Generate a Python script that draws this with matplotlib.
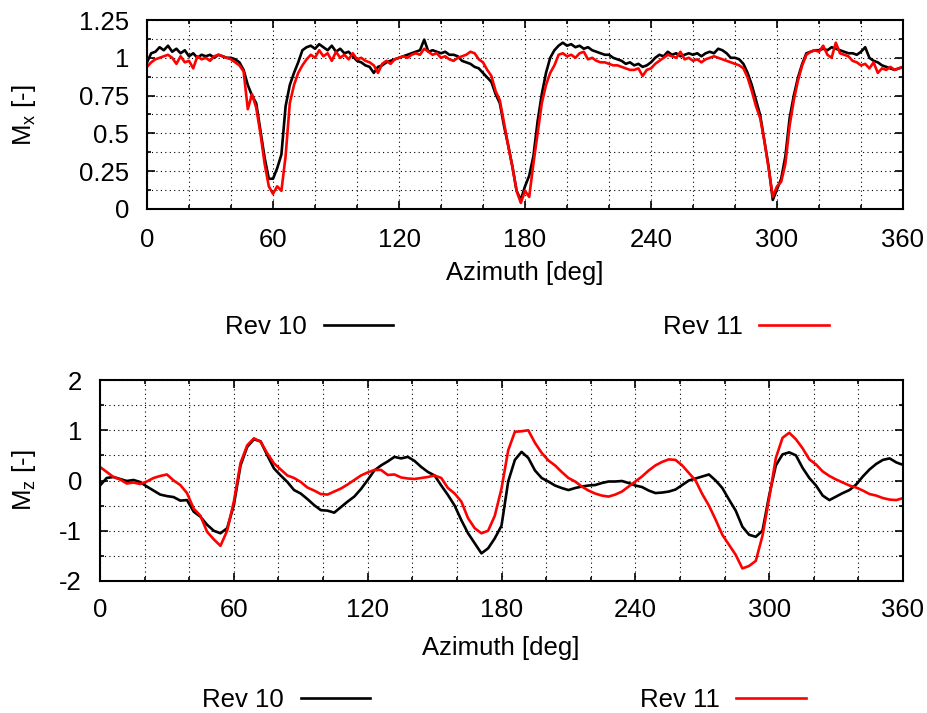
import numpy as np
import matplotlib
matplotlib.use('Agg')
import matplotlib.pyplot as plt
from matplotlib.ticker import MultipleLocator

plt.rcParams['font.family'] = ['Liberation Sans', 'DejaVu Sans']
plt.rcParams['font.size'] = 18.5
plt.rcParams['mathtext.fontset'] = 'custom'
plt.rcParams['mathtext.rm'] = 'Liberation Sans'

# azimuth grids (deg)
az_mx = np.arange(0, 361, 2)
az_mz = np.arange(0, 361, 3)

# M_x, step 2 deg
mx_rev10 = [
    0.97, 1.03, 1.04, 1.07, 1.05, 1.08, 1.04, 1.06, 1.03, 1.05,
    1.01, 1.03, 1.00, 1.02, 1.01, 1.02, 1.00, 1.02, 1.01, 1.00,
    1.00, 0.99, 0.97, 0.92, 0.82, 0.75, 0.70, 0.52, 0.34, 0.20,
    0.20, 0.27, 0.36, 0.68, 0.82, 0.90, 0.97, 1.05, 1.07, 1.08,
    1.06, 1.09, 1.07, 1.05, 1.08, 1.04, 1.06, 1.03, 1.04, 1.01,
    0.98, 0.97, 0.95, 0.94, 0.90, 0.94, 0.95, 0.97, 0.98, 0.99,
    1.00, 1.01, 1.02, 1.03, 1.04, 1.05, 1.12, 1.04, 1.05, 1.04,
    1.03, 1.04, 1.02, 1.02, 1.01, 0.98, 0.97, 0.96, 0.94, 0.93,
    0.90, 0.87, 0.84, 0.76, 0.70, 0.55, 0.42, 0.28, 0.12, 0.06,
    0.15, 0.22, 0.35, 0.58, 0.76, 0.90, 1.00, 1.05, 1.08, 1.10,
    1.08, 1.09, 1.07, 1.08, 1.06, 1.07, 1.05, 1.04, 1.03, 1.02,
    1.02, 1.00, 0.99, 0.98, 0.96, 0.97, 0.95, 0.96, 0.94, 0.95,
    0.97, 1.00, 1.02, 1.01, 1.04, 1.02, 1.03, 1.01, 1.02, 1.03,
    1.02, 1.03, 1.01, 1.03, 1.04, 1.03, 1.06, 1.05, 1.03, 1.00,
    1.00, 0.99, 0.96, 0.90, 0.82, 0.72, 0.62, 0.45, 0.28, 0.06,
    0.13, 0.20, 0.35, 0.60, 0.75, 0.87, 0.96, 1.03, 1.04, 1.05,
    1.05, 1.06, 1.05, 1.07, 1.06, 1.05, 1.04, 1.03, 1.03, 1.02,
    1.04, 1.07, 1.00, 0.98, 0.97, 0.95, 0.94, 0.93, 0.92, 0.93,
    0.94,
]
mx_rev11 = [
    0.94, 0.97, 0.99, 1.00, 1.01, 1.02, 1.00, 0.96, 1.01, 0.97,
    0.98, 0.93, 1.01, 0.99, 1.00, 0.98, 1.01, 1.02, 1.01, 1.00,
    0.99, 0.97, 0.95, 0.91, 0.66, 0.76, 0.67, 0.50, 0.30, 0.15,
    0.10, 0.15, 0.12, 0.35, 0.70, 0.82, 0.90, 0.95, 0.99, 1.02,
    1.00, 1.05, 1.01, 1.03, 0.98, 1.04, 1.00, 1.02, 0.99, 1.03,
    0.99, 1.00, 0.98, 0.97, 0.95, 0.90, 0.96, 0.98, 0.96, 0.99,
    1.00, 1.01, 1.00, 1.02, 1.03, 1.02, 1.06, 1.04, 1.02, 1.03,
    1.00, 1.01, 0.99, 0.98, 1.00, 1.01, 1.02, 1.04, 1.03, 0.99,
    0.97, 0.92, 0.88, 0.78, 0.72, 0.57, 0.42, 0.28, 0.12, 0.04,
    0.12, 0.08, 0.30, 0.50, 0.70, 0.82, 0.90, 0.95, 1.02, 1.03,
    1.01, 1.02, 1.00, 1.03, 1.04, 0.99, 1.00, 0.98, 0.97, 0.97,
    0.96, 0.95, 0.95, 0.94, 0.93, 0.92, 0.92, 0.93, 0.88, 0.92,
    0.93, 0.96, 0.98, 1.00, 1.02, 1.01, 1.00, 1.04, 0.99, 1.00,
    0.98, 0.99, 0.97, 0.99, 1.00, 1.01, 1.00, 0.99, 0.98, 0.97,
    0.96, 0.95, 0.93, 0.87, 0.78, 0.68, 0.60, 0.45, 0.27, 0.08,
    0.15, 0.18, 0.30, 0.55, 0.72, 0.85, 0.95, 1.02, 1.04, 1.05,
    1.04, 1.08, 1.02, 1.00, 1.10, 1.03, 1.02, 1.01, 0.98, 0.97,
    0.95, 0.96, 0.93, 0.97, 0.90, 0.93, 0.92, 0.94, 0.92, 0.93,
    0.94,
]

# M_z, step 3 deg
mz_rev10 = [
    -0.10, 0.05, 0.07, 0.03, -0.01, 0.01, -0.03, -0.12, -0.20, -0.28,
    -0.31, -0.33, -0.40, -0.39, -0.62, -0.72, -0.88, -1.00, -1.05, -0.95,
    -0.49, 0.30, 0.67, 0.82, 0.78, 0.50, 0.24, 0.10, -0.03, -0.19,
    -0.26, -0.37, -0.49, -0.59, -0.60, -0.64, -0.53, -0.42, -0.32, -0.17,
    0.01, 0.20, 0.30, 0.38, 0.47, 0.44, 0.47, 0.39, 0.27, 0.17,
    0.10, -0.10, -0.29, -0.50, -0.79, -1.05, -1.25, -1.45, -1.35, -1.15,
    -0.90, -0.02, 0.41, 0.57, 0.45, 0.20, 0.05, -0.02, -0.10, -0.15,
    -0.19, -0.15, -0.12, -0.10, -0.09, -0.05, -0.02, -0.02, -0.01, -0.05,
    -0.10, -0.13, -0.20, -0.25, -0.24, -0.22, -0.18, -0.09, 0.00, 0.04,
    0.08, 0.12, 0.00, -0.15, -0.38, -0.60, -0.92, -1.08, -1.12, -1.00,
    -0.30, 0.30, 0.52, 0.56, 0.50, 0.25, 0.05, -0.10, -0.30, -0.39,
    -0.32, -0.25, -0.19, -0.08, 0.08, 0.22, 0.33, 0.41, 0.44, 0.36,
    0.31,
]
mz_rev11 = [
    0.27, 0.17, 0.07, 0.02, -0.06, -0.04, -0.07, -0.02, 0.05, 0.09,
    0.12, 0.00, -0.09, -0.25, -0.56, -0.70, -1.02, -1.17, -1.30, -1.00,
    -0.42, 0.35, 0.70, 0.84, 0.77, 0.54, 0.34, 0.22, 0.10, 0.05,
    -0.03, -0.14, -0.20, -0.27, -0.28, -0.22, -0.16, -0.08, 0.01, 0.10,
    0.16, 0.21, 0.21, 0.11, 0.12, 0.06, 0.04, 0.03, 0.05, 0.07,
    0.10, 0.05, -0.15, -0.26, -0.42, -0.75, -0.95, -1.05, -1.00, -0.70,
    -0.16, 0.60, 0.97, 0.98, 1.00, 0.75, 0.55, 0.40, 0.30, 0.17,
    0.05, -0.02, -0.12, -0.20, -0.26, -0.30, -0.32, -0.28, -0.22, -0.12,
    -0.02, 0.08, 0.20, 0.30, 0.37, 0.42, 0.41, 0.30, 0.15, 0.00,
    -0.27, -0.50, -0.78, -1.08, -1.28, -1.48, -1.75, -1.70, -1.60, -1.10,
    -0.35, 0.45, 0.85, 0.95, 0.82, 0.64, 0.42, 0.32, 0.18, 0.09,
    0.02, -0.04, -0.10, -0.14, -0.20, -0.27, -0.30, -0.35, -0.38, -0.39,
    -0.35,
]

W, H = 927, 713
fig = plt.figure(figsize=(W / 100, H / 100), dpi=100)

def px_axes(l, t, r, b):
    return fig.add_axes([l / W, 1 - b / H, (r - l) / W, (b - t) / H])

ax1 = px_axes(147, 20, 903, 209)
ax2 = px_axes(100, 380, 903, 581)

def style(ax, ymaj, ymin, ylo, yhi, xpad):
    ax.set_xlim(0, 360)
    ax.set_ylim(ylo, yhi)
    ax.xaxis.set_major_locator(MultipleLocator(60))
    ax.xaxis.set_minor_locator(MultipleLocator(20))
    ax.yaxis.set_major_locator(MultipleLocator(ymaj))
    ax.yaxis.set_minor_locator(MultipleLocator(ymin))
    ax.yaxis.set_major_formatter(lambda v, p: f'{v:g}')
    ax.grid(True, which='both', color='black', lw=0.8, ls=(0, (1, 3)))
    ax.tick_params(which='both', direction='in', top=True, right=True, width=1.2)
    ax.tick_params(which='major', length=6)
    ax.tick_params(which='minor', length=3)
    ax.tick_params(axis='x', pad=xpad)
    ax.tick_params(axis='y', pad=13)
    for s in ax.spines.values():
        s.set_linewidth(1.5)

l1, = ax1.plot(az_mx, mx_rev10, color='black', lw=1.9, label='Rev 10')
l2, = ax1.plot(az_mx, mx_rev11, color='red', lw=1.9, label='Rev 11')
style(ax1, 0.25, 0.125, 0, 1.25, 14)

ax2.plot(az_mz, mz_rev10, color='black', lw=1.9)
ax2.plot(az_mz, mz_rev11, color='red', lw=1.9)
style(ax2, 1, 0.5, -2, 2, 12)

fig.text(525 / W, 1 - 273 / H, 'Azimuth [deg]', ha='center', va='center')
fig.text(501 / W, 1 - 648 / H, 'Azimuth [deg]', ha='center', va='center')
fig.text(24 / W, 1 - 115 / H, r'M$_\mathregular{x}$ [-]', rotation=90, ha='center', va='center')
fig.text(24 / W, 1 - 480 / H, r'M$_\mathregular{z}$ [-]', rotation=90, ha='center', va='center')

leg_kw = dict(loc='center', ncol=2, markerfirst=False, frameon=False,
              handlelength=2.7, handletextpad=0.65, columnspacing=10.5)
fig.legend([l1, l2], ['Rev 10', 'Rev 11'], bbox_to_anchor=(527 / W, 1 - 327 / H), **leg_kw)
fig.legend([l1, l2], ['Rev 10', 'Rev 11'], bbox_to_anchor=(504 / W, 1 - 700 / H), **leg_kw)

fig.savefig('out.png', dpi=100)
